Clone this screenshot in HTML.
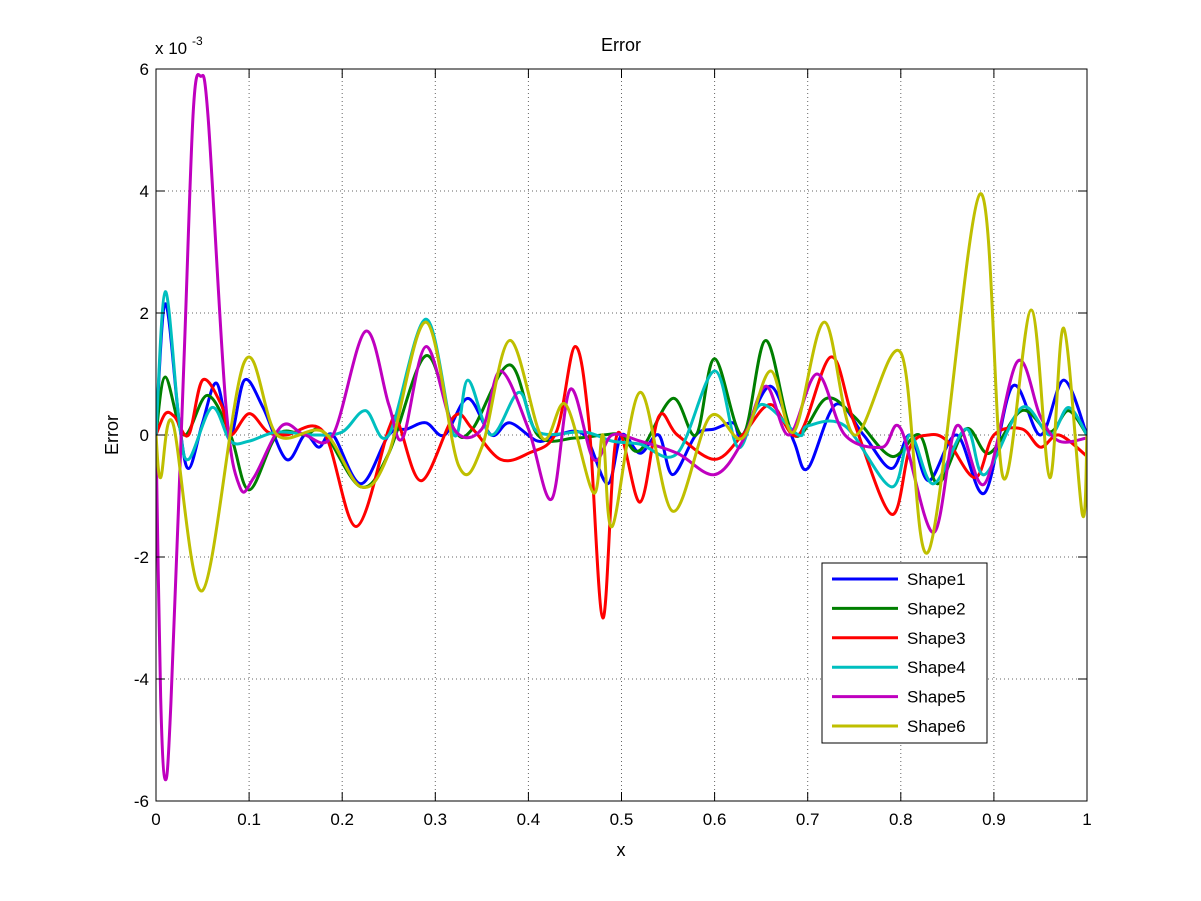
<!DOCTYPE html>
<html><head><meta charset="utf-8"><style>
body{margin:0;background:#fff}
svg{display:block;font-family:"Liberation Sans",Arial,sans-serif}
</style></head><body>
<svg id="s" width="1201" height="901" viewBox="0 0 1201 901">
<rect width="1201" height="901" fill="#fff"/>
<g id="grid" stroke="#000" stroke-width="1" stroke-dasharray="1,3" opacity="0.6"></g>
<g id="curves" fill="none" stroke-width="3" stroke-linejoin="round" clip-path="url(#c)"></g>
<clipPath id="c"><rect x="156" y="69" width="931" height="732"/></clipPath>
<rect x="156" y="69" width="931" height="732" fill="none" stroke="#000" stroke-width="1"/>
<g id="ticks" stroke="#000"></g>
<g id="labels" font-size="17" fill="#000"></g>
<text x="621" y="51" font-size="18" text-anchor="middle">Error</text>
<text x="621" y="856" font-size="18" text-anchor="middle">x</text>
<text transform="translate(118,435) rotate(-90)" font-size="18" text-anchor="middle">Error</text>
<text x="155" y="54" font-size="17">x 10</text><text x="192" y="45" font-size="12">-3</text>
<g>
<rect x="822" y="563" width="165" height="180" fill="#fff" stroke="#000"/>
<g id="leg" font-size="17"></g>
</g>
</svg>
<script>
const X0=156,X1=1087,Y0=435,K=61;
const px=x=>X0+x*(X1-X0), py=y=>Y0-y*K;
const ns="http://www.w3.org/2000/svg";
function el(t,a,p,txt){const e=document.createElementNS(ns,t);for(const k in a)e.setAttribute(k,a[k]);if(txt!==undefined)e.textContent=txt;p.appendChild(e);return e;}
const grid=document.getElementById('grid'),ticks=document.getElementById('ticks'),labels=document.getElementById('labels');
for(let i=0;i<=10;i++){const x=px(i/10);
 if(i>0&&i<10)el('line',{x1:x,y1:69,x2:x,y2:801},grid);
 el('line',{x1:x,y1:801,x2:x,y2:792},ticks);el('line',{x1:x,y1:69,x2:x,y2:78},ticks);
 el('text',{x:x,y:825,'text-anchor':'middle'},labels,i==0?'0':i==10?'1':'0.'+i);}
for(let v=-6;v<=6;v+=2){const y=py(v);
 if(v>-6&&v<6)el('line',{x1:156,y1:y,x2:1087,y2:y},grid);
 el('line',{x1:156,y1:y,x2:165,y2:y},ticks);el('line',{x1:1087,y1:y,x2:1078,y2:y},ticks);
 el('text',{x:149,y:y+6,'text-anchor':'end'},labels,String(v));}
const D={
'#0000ff':[0,0,.01,2.15,.025,.2,.035,-.55,.05,.2,.065,.85,.08,0,.095,.9,.115,.45,.14,-.4,.16,0,.175,-.2,.19,0,.22,-.8,.25,0,.27,.1,.29,.2,.31,0,.335,.6,.36,0,.38,.2,.41,-.1,.43,0,.46,0,.485,-.8,.5,0,.52,-.3,.54,0,.555,-.65,.58,0,.6,.1,.62,.2,.63,0,.66,.8,.685,-.1,.7,-.55,.73,.5,.76,0,.79,-.55,.81,0,.83,-.75,.86,0,.89,-.95,.92,.8,.95,0,.975,.9,1,0],
'#007f00':[0,0,.01,.95,.03,0,.055,.65,.08,0,.1,-.9,.13,0,.16,0,.18,.05,.22,-.85,.25,-.3,.29,1.3,.32,.1,.34,.1,.38,1.15,.41,0,.45,-.05,.48,0,.5,0,.52,-.25,.555,.6,.58,0,.6,1.25,.63,0,.655,1.55,.685,0,.72,.6,.75,.3,.79,-.35,.82,0,.84,-.8,.87,.1,.895,-.3,.93,.4,.96,.05,.98,.4,1,0],
'#ff0000':[0,0,.01,.35,.02,.3,.035,0,.05,.9,.07,.5,.08,0,.1,.35,.12,.05,.14,0,.18,.05,.215,-1.5,.25,.1,.26,.2,.285,-.75,.32,.3,.34,.1,.37,-.4,.4,-.3,.43,.05,.45,1.45,.465,.2,.48,-3,.495,0,.52,-1.1,.54,.3,.56,0,.6,-.4,.63,0,.66,.5,.69,0,.725,1.28,.75,.2,.79,-1.3,.81,-.2,.83,0,.85,-.1,.88,-.7,.9,0,.93,.1,.95,-.2,.97,0,1,-.35],
'#00bfbf':[0,0,.01,2.35,.025,.2,.035,-.4,.06,.45,.08,-.1,.1,-.1,.13,.05,.17,0,.2,.05,.225,.4,.25,0,.29,1.9,.32,0,.335,.9,.36,0,.39,.7,.41,.05,.46,.05,.49,-.1,.52,-.15,.56,-.3,.6,1.05,.625,-.2,.65,.5,.69,0,.7,.15,.74,.15,.79,-.85,.81,0,.835,-.8,.87,.1,.89,-.65,.93,.45,.96,0,.98,.45,1,0],
'#bf00bf':[0,0,.005,-4.3,.01,-5.65,.016,-4.4,.03,1.2,.04,5.3,.048,5.88,.056,5.2,.075,.5,.09,-.85,.105,-.7,.135,.15,.16,0,.19,0,.225,1.7,.25,.5,.265,-.05,.29,1.45,.32,.1,.35,.1,.37,1.05,.4,.1,.425,-1.05,.445,.75,.47,-.4,.49,0,.52,-.1,.56,-.3,.6,-.65,.63,-.1,.655,.8,.68,0,.71,1,.74,0,.78,-.2,.8,.1,.835,-1.6,.86,.15,.89,-.8,.925,1.2,.95,.3,.97,-.1,1,-.05],
'#bfbf00':[0,0,.005,-.7,.018,.2,.05,-2.55,.095,1.2,.13,0,.18,.05,.22,-.85,.25,-.3,.29,1.85,.325,-.5,.35,-.2,.38,1.55,.415,-.05,.44,.5,.47,-.95,.48,0,.49,-1.5,.52,.7,.555,-1.25,.595,.3,.63,-.05,.66,1.05,.685,.05,.718,1.85,.75,0,.8,1.35,.83,-1.9,.885,3.95,.91,-.7,.94,2.05,.96,-.7,.975,1.75,.995,-1.3,1,0]};
const cur=document.getElementById('curves');
for(const c in D){const a=D[c],P=[];for(let i=0;i<a.length;i+=2)P.push([px(a[i]),py(a[i+1])]);
 let d='M'+P[0][0]+','+P[0][1];
 for(let i=0;i<P.length-1;i++){const p0=P[Math.max(i-1,0)],p1=P[i],p2=P[i+1],p3=P[Math.min(i+2,P.length-1)];
  const c1=[p1[0]+(p2[0]-p0[0])/6,p1[1]+(p2[1]-p0[1])/6],c2=[p2[0]-(p3[0]-p1[0])/6,p2[1]-(p3[1]-p1[1])/6];
  d+=`C${c1[0]},${c1[1]} ${c2[0]},${c2[1]} ${p2[0]},${p2[1]}`;}
 el('path',{d:d,stroke:c},cur);}
const leg=document.getElementById('leg');let i=0;
for(const c in D){const y=579+i*29.4;el('line',{x1:832,y1:y,x2:898,y2:y,stroke:c,'stroke-width':3},leg);
 el('text',{x:907,y:y+6},leg,'Shape'+(i+1));i++;}
</script>
</body></html>
